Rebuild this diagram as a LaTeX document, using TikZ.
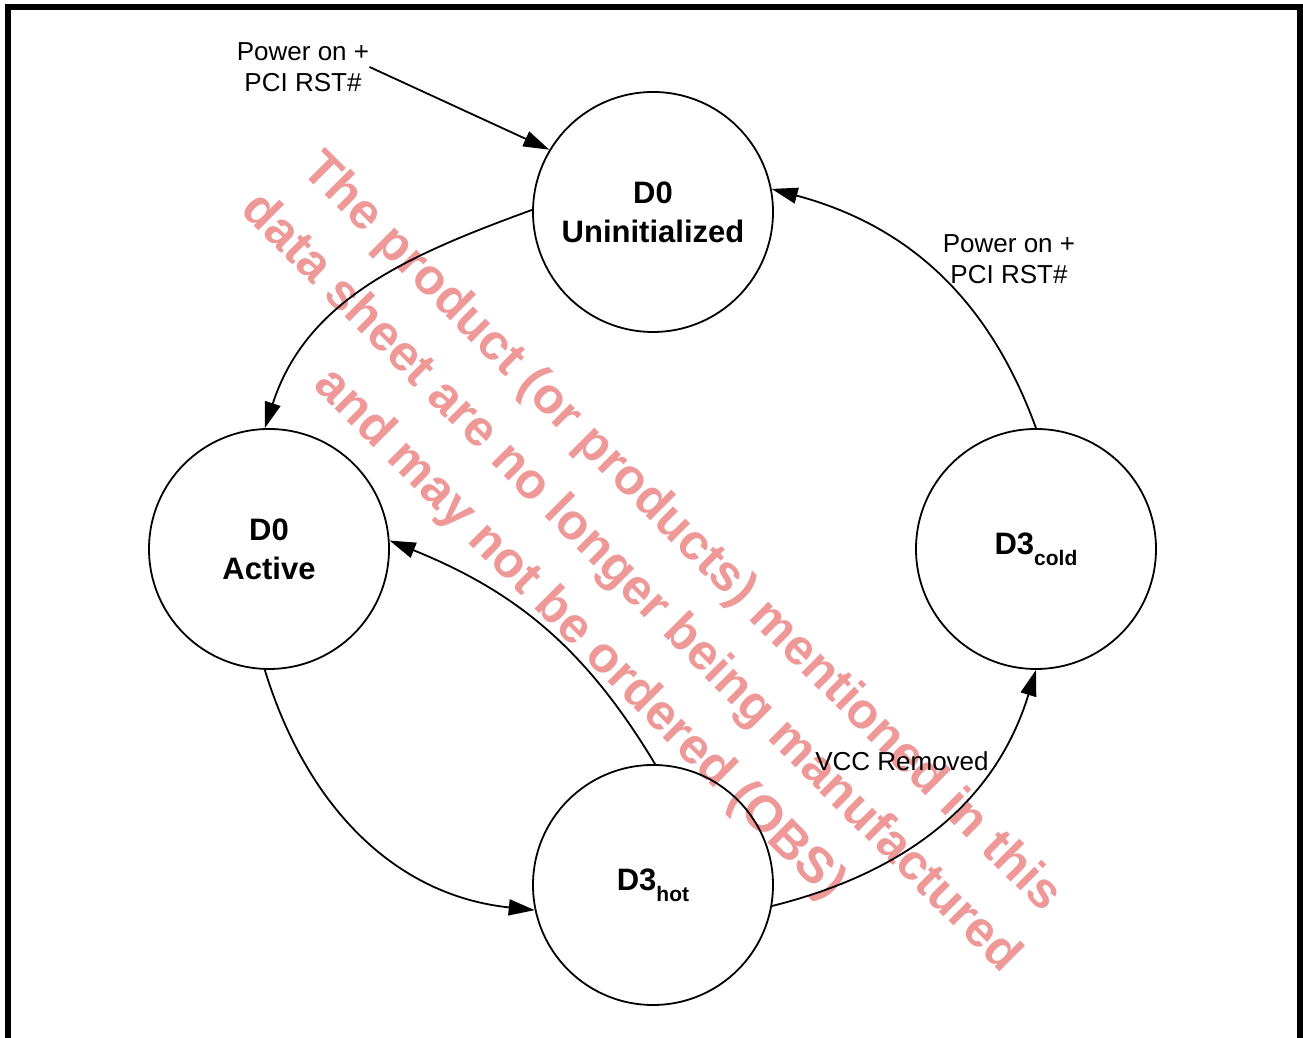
\documentclass[tikz,border=0pt]{standalone}
\usepackage{fontspec}
\setmainfont{Liberation Sans}
\usetikzlibrary{arrows.meta}
\definecolor{obspink}{RGB}{238,152,152}
\newcommand{\statesub}[1]{\raisebox{-5.5pt}{\fontsize{10.5}{12}\selectfont #1}}

\begin{document}
\begin{tikzpicture}
  [x=0.5pt, y=0.5pt,
   state/.style={draw, circle, line width=0.9pt, minimum size=120pt, inner sep=0pt, align=center,
     font=\fontsize{15.5}{19.5}\selectfont\bfseries},
   lbl/.style={align=center, inner sep=0pt, font=\fontsize{13}{15.5}\selectfont},
   wmark/.style={align=center, text=obspink, font=\fontsize{25.2}{36}\selectfont\bfseries},
   trans/.style={line width=0.9pt, -{Triangle[length=13pt, width=8pt]}}]
  \useasboundingbox (0,0) rectangle (1303,1038);
  \draw[line width=3pt] (8,0) -- (8,1031) -- (1300,1031) -- (1300,0);
  \node[wmark, rotate=-45] (obs) at (630,454)
    {The product (or products) mentioned in this\\data sheet are no longer being manufactured\\and may not be ordered (OBS)};
  \node[state] (uninit) at (653,826) {D0\\Uninitialized};
  \node[state] (active) at (269,489) {D0\\Active};
  \node[state] (cold) at (1036,489) {D3\statesub{cold}};
  \node[state] (hot) at (653,153) {D3\statesub{hot}};
  \node[lbl] (pwrA) at (303,971) {Power on +\\PCI RST\#};
  \node[lbl] (pwrB) at (1009,779) {Power on +\\PCI RST\#};
  \node[lbl] (vcc) at (902,277) {VCC Removed};
  \draw[trans] (pwrA.east) -- (uninit.149);
  \draw[trans] (uninit.179) to[out=200, in=72] (active.92);
  \draw[trans] (active.268) to[out=287, in=174] (hot.192);
  \draw[trans] (hot.89) to[out=121, in=-22] (active.4);
  \draw[trans] (hot.350) to[out=14, in=253] (cold.270);
  \draw[trans] (cold.90) to[out=110, in=-15] (uninit.11);
\end{tikzpicture}
\end{document}
